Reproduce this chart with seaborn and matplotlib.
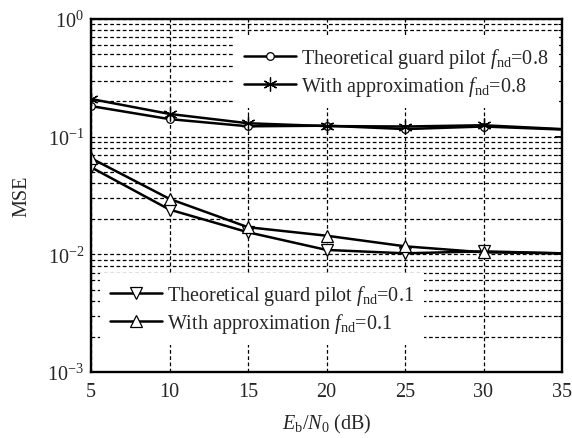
import numpy as np
import pandas as pd
import matplotlib
matplotlib.use("Agg")
import matplotlib.pyplot as plt
import seaborn as sns

# Data
ebn0 = [5, 10, 15, 20, 25, 30, 35]
theo_08 = [0.182, 0.141, 0.1225, 0.124, 0.116, 0.122, 0.115]
approx_08 = [0.209, 0.156, 0.130, 0.123, 0.122, 0.125, 0.116]
theo_01 = [0.055, 0.024, 0.0154, 0.0109, 0.0102, 0.0106, 0.0102]
approx_01 = [0.0656, 0.0296, 0.0170, 0.0144, 0.0117, 0.0104, 0.0102]

labels = [
    r"Theoretical guard pilot $f_\mathrm{nd}$=0.8",
    r"With approximation $f_\mathrm{nd}$=0.8",
    r"Theoretical guard pilot $f_\mathrm{nd}$=0.1",
    r"With approximation $f_\mathrm{nd}$=0.1",
]
markers = ["o", (6, 2, 0), "v", "^"]
msizes = [5.5, 10, 8, 8]
series = [theo_08, approx_08, theo_01, approx_01]

sns.set_style("white")
plt.rcParams["font.family"] = ["Liberation Serif", "DejaVu Serif"]
plt.rcParams["mathtext.fontset"] = "custom"
plt.rcParams["mathtext.rm"] = "Liberation Serif"
plt.rcParams["mathtext.it"] = "Liberation Serif:italic"
plt.rcParams["mathtext.bf"] = "Liberation Serif:bold"
FS = 14.5

fig = plt.figure(figsize=(5.72, 4.39), dpi=100)
ax = fig.add_axes([91 / 572, 1 - 373 / 439, 471 / 572, 353 / 439])

lines = []
for y, lab, m, ms in zip(series, labels, markers, msizes):
    df = pd.DataFrame({"x": ebn0, "y": y})
    sns.lineplot(data=df, x="x", y="y", ax=ax, color="black", linewidth=1.8,
                 marker=m, markersize=ms,
                 markerfacecolor="white", markeredgecolor="black",
                 markeredgewidth=0.9, markevery=list(range(6)), label=lab,
                 legend=False)
    lines.append(ax.lines[-1])

ax.set_yscale("log")
ax.set_xlim(5, 35)
ax.set_ylim(1e-3, 1)
ax.set_xticks([5, 10, 15, 20, 25, 30, 35])
ax.grid(True, which="major", axis="both", color="black",
        linestyle=(0, (3, 2)), linewidth=0.9)
ax.grid(True, which="minor", axis="y", color="black",
        linestyle=(0, (3, 2)), linewidth=0.9)
ax.tick_params(which="both", direction="in", labelsize=FS, top=False,
               right=True, color="black")
ax.tick_params(which="major", length=5, width=1.3)
ax.tick_params(axis="x", which="major", pad=7)
ax.tick_params(axis="y", which="major", pad=5)
ax.tick_params(which="minor", length=3, width=0.8)
for s in ax.spines.values():
    s.set_color("black")
    s.set_linewidth(1.7)

ax.set_xlabel(r"$E_\mathrm{b}/N_0$ (dB)", fontsize=FS, labelpad=8)
ax.set_ylabel("MSE", fontsize=FS, labelpad=11)

common = dict(fontsize=FS, frameon=True, fancybox=False, edgecolor="none",
              facecolor="white", framealpha=1, handlelength=2.6,
              handletextpad=0.25, labelspacing=0.2, borderpad=0.5,
              borderaxespad=0)
leg1 = ax.legend(handles=lines[:2], loc="upper right",
                 bbox_to_anchor=(0.993, 0.952), **common)
ax.add_artist(leg1)
leg2 = ax.legend(handles=lines[2:], loc="lower left",
                 bbox_to_anchor=(0.019, 0.077), **common)

fig.savefig("out.png", dpi=100)
